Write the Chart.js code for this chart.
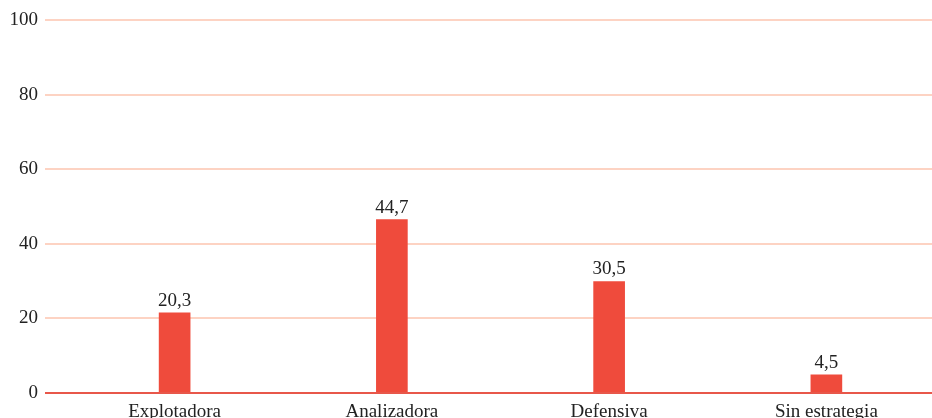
<!DOCTYPE html>
<html>
<head>
<meta charset="utf-8">
<script src="https://cdn.jsdelivr.net/npm/chart.js@4/dist/chart.umd.min.js"></script>
<style>
  html, body { margin: 0; padding: 0; background: #fff; overflow: hidden; }
  #wrap { width: 935px; height: 418px; }
</style>
</head>
<body>
<div id="wrap"><canvas id="chart"></canvas></div>
<script>
const categories = ['Explotadora', 'Analizadora', 'Defensiva', 'Sin estrategia'];
const values = [21.5, 46.5, 29.9, 4.9];
const valueLabels = ['20,3', '44,7', '30,5', '4,5'];
const yTicks = [0, 20, 40, 60, 80, 100];

const barColor = '#EF4B3C';
const gridColor = '#FDD3C3';
const zeroColor = '#E8574A';
const textColor = '#222222';
const fontFamily = '"Liberation Serif", "DejaVu Serif", serif';

// value labels above bars + red baseline at 0
const barLabels = {
  id: 'barLabels',
  afterDraw(chart) {
    const ctx = chart.ctx;
    const y = chart.scales.y;
    const zero = Math.round(y.getPixelForValue(0));
    ctx.save();
    ctx.strokeStyle = zeroColor;
    ctx.lineWidth = 2;
    ctx.beginPath();
    ctx.moveTo(y.right - 21, zero);
    ctx.lineTo(chart.chartArea.right, zero);
    ctx.stroke();

    ctx.font = '19px ' + fontFamily;
    ctx.fillStyle = textColor;
    ctx.textAlign = 'center';
    ctx.textBaseline = 'alphabetic';
    chart.getDatasetMeta(0).data.forEach((bar, i) => {
      ctx.fillText(valueLabels[i], bar.x, bar.y - 7);
    });
    ctx.restore();
  }
};

new Chart(document.getElementById('chart').getContext('2d'), {
  type: 'bar',
  data: {
    labels: categories,
    datasets: [
      {
        data: values,
        backgroundColor: barColor,
        barThickness: 31,
      },
    ],
  },
  options: {
    responsive: true,
    maintainAspectRatio: false,
    animation: false,
    layout: { padding: { top: 20, right: 0, bottom: 0, left: 0 } },
    plugins: {
      legend: { display: false },
      tooltip: { enabled: false },
    },
    scales: {
      x: {
        afterFit: scale => { scale.height = 25; },
        grid: { display: false },
        border: { display: false },
        ticks: {
          color: textColor,
          font: { family: fontFamily, size: 19 },
          padding: 0,
        },
      },
      y: {
        min: 0,
        max: 100,
        afterFit: scale => { scale.width = 66; },
        afterBuildTicks: scale => { scale.ticks = yTicks.map(v => ({ value: v })); },
        border: { display: false },
        grid: {
          color: gridColor,
          lineWidth: 2,
          tickLength: 21,
        },
        ticks: {
          color: textColor,
          font: { family: fontFamily, size: 19 },
          padding: 7,
        },
      },
    },
  },
  plugins: [barLabels],
});
</script>
</body>
</html>
